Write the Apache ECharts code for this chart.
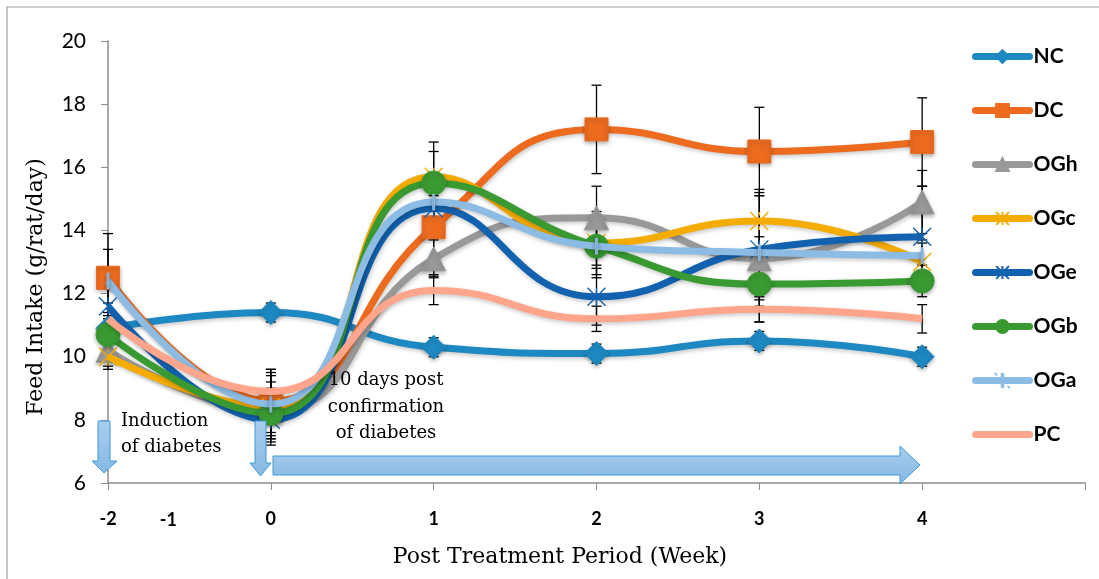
<!DOCTYPE html>
<html>
<head>
<meta charset="utf-8">
<script src="https://cdn.jsdelivr.net/npm/echarts@6/dist/echarts.min.js"></script>
<style>html,body{margin:0;padding:0;background:#fff}#c{width:1099px;height:579px}</style>
</head>
<body>
<div id="c"></div>
<script>
// Week categories, placed at equal positions 0..5 on the x axis
const weeks = ['-2', '0', '1', '2', '3', '4'];
const seriesNames = ['NC', 'DC', 'OGh', 'OGc', 'OGe', 'OGb', 'OGa', 'PC'];

const NC  = [10.9, 11.4, 10.3, 10.1, 10.5, 10.0];
const DC  = [12.5, 8.6, 14.1, 17.2, 16.5, 16.8];
const OGh = [10.2, 8.3, 13.1, 14.4, 13.1, 14.9];
const OGc = [10.0, 8.4, 15.7, 13.6, 14.3, 13.0];
const OGe = [11.6, 8.0, 14.7, 11.9, 13.4, 13.8];
const OGb = [10.7, 8.2, 15.5, 13.5, 12.3, 12.4];
const OGa = [12.4, 8.5, 14.9, 13.5, 13.3, 13.2];
const PC  = [11.2, 8.9, 12.1, 11.2, 11.5, 11.2];

const NC_err  = [0.3, 0.3, 0.3, 0.3, 0.3, 0.3];
const DC_err  = [1.4, 1.0, 1.5, 1.4, 1.4, 1.4];
const OGh_err = [0.5, 0.9, 0.6, 1.0, 2.0, 1.0];
const OGc_err = [0.4, 1.2, 0.8, 1.0, 1.0, 0.6];
const OGe_err = [0.7, 0.7, 0.4, 0.9, 1.8, 1.6];
const OGb_err = [0.6, 0.8, 1.3, 1.0, 0.5, 0.5];
const OGa_err = [1.0, 1.0, 0.5, 0.6, 0.5, 0.5];
const PC_err  = [0.5, 0.5, 0.45, 0.4, 0.4, 0.45];

const values = {NC, DC, OGh, OGc, OGe, OGb, OGa, PC};
const errors = {NC: NC_err, DC: DC_err, OGh: OGh_err, OGc: OGc_err, OGe: OGe_err, OGb: OGb_err, OGa: OGa_err, PC: PC_err};

const colors = {NC:'#1E88C2', DC:'#EC6B1F', OGh:'#999999', OGc:'#F4AC00', OGe:'#1262AF', OGb:'#3A9A32', OGa:'#8CBBE3', PC:'#FFA58B'};
const xMark = 'path://M0,0L10,10M10,0L0,10M5,0L5,2M5,8L5,10';
const starMark = 'path://M0,0L10,10M10,0L0,10M5,0L5,10';
const tickMark = 'path://M6.2,0L7.8,0L7.8,14L6.2,14Z M0,0L0.01,0L0.01,0.01Z M13.99,13.99L14,13.99L14,14Z';
const blankMark = 'path://M0,0L1,0L1,1L0,1Z';
const symbols = {
  NC: {symbol:'diamond', size:24, fill:true},
  DC: {symbol:'rect', size:23, fill:true},
  OGh: {symbol:'triangle', size:24, fill:true},
  OGc: {symbol:xMark, size:18, fill:false},
  OGe: {symbol:starMark, size:18, fill:false},
  OGb: {symbol:'circle', size:24, fill:true},
  OGa: {symbol:tickMark, size:16, fill:true},
  PC: {symbol:blankMark, size:1, fill:true, hidden:true}
};

const chart = echarts.init(document.getElementById('c'), null, {renderer:'canvas'});

const series = [];
const errData = [];
seriesNames.forEach(function(n){
  values[n].forEach(function(v, i){ errData.push([i, v, errors[n][i]]); });
});
series.push({
  type:'custom', name:'err', z:1, silent:true,
  renderItem:function(params, api){
    const x = api.value(0), y = api.value(1), e = api.value(2);
    const t = api.coord([x, y + e]), b = api.coord([x, y - e]);
    const w = 5;
    const st = {stroke:'#000', lineWidth:1.3};
    return {type:'group', children:[
      {type:'line', shape:{x1:t[0], y1:t[1], x2:b[0], y2:b[1]}, style:st},
      {type:'line', shape:{x1:t[0]-w, y1:t[1], x2:t[0]+w, y2:t[1]}, style:st},
      {type:'line', shape:{x1:b[0]-w, y1:b[1], x2:b[0]+w, y2:b[1]}, style:st}
    ]};
  },
  encode:{x:0, y:1},
  data:errData
});
seriesNames.forEach(function(n, k){
  const s = symbols[n];
  series.push({
    name:n, type:'line', z:2 + k,
    data: values[n].map(function(v, i){ return [i, v]; }),
    smooth:0.5,
    symbol:s.symbol, symbolSize:s.size, showSymbol: !s.hidden, symbolKeepAspect:true,
    lineStyle:{color:colors[n], width:7, shadowColor:'rgba(0,0,0,0.22)', shadowBlur:4, shadowOffsetX:1, shadowOffsetY:2},
    itemStyle: s.hidden ? {color:'rgba(0,0,0,0)', borderWidth:0}
             : s.fill ? {color:colors[n], borderColor:colors[n], borderWidth:1, shadowColor:'rgba(0,0,0,0.3)', shadowBlur:4, shadowOffsetY:2}
                      : {color:'none', borderColor:colors[n], borderWidth:1.4},
    emphasis:{disabled:true},
    animation:false
  });
});

chart.setOption({
  animation:false,
  grid:{left:108, right:14, top:41, bottom:96, containLabel:false},
  legend:{
    data:seriesNames, orient:'vertical', left:967, top:41,
    itemWidth:54, itemHeight:16, itemGap:33,
    lineStyle:{width:7, cap:'round'},
    textStyle:{fontFamily:'Lato', fontWeight:'bold', fontSize:21, color:'#000', padding:[0,0,0,-1]}
  },
  xAxis:{
    type:'value', min:0, max:6, interval:1,
    axisLine:{lineStyle:{color:'#8c8c8c', width:1.5}},
    axisTick:{show:true, length:7, lineStyle:{color:'#8c8c8c'}},
    splitLine:{show:false},
    axisLabel:{
      margin:27, fontFamily:'Lato', fontWeight:'bold', fontSize:18, color:'#000',
      formatter:function(v){ return weeks[v] !== undefined ? weeks[v] : ''; }
    }
  },
  yAxis:{
    type:'value', min:6, max:20, interval:2,
    axisLine:{show:true, lineStyle:{color:'#8c8c8c', width:1.5}},
    axisTick:{show:true, length:7, lineStyle:{color:'#8c8c8c'}},
    splitLine:{show:false},
    axisLabel:{margin:22, fontFamily:'Lato', fontSize:21, color:'#000'}
  },
  series:series
});

function px(x, y){ return chart.convertToPixel({gridIndex:0}, [x, y]); }
const yBase = px(0, 6)[1];
const arrowFill = new echarts.graphic.LinearGradient(0,0,0,1,[{offset:0,color:'#a9cdee'},{offset:1,color:'#86b8e3'}]);
const arrowStroke = '#3d9ad8';
const serif = '"DejaVu Serif"';
chart.setOption({
  graphic:[
    {type:'rect', z:0, shape:{x:7, y:7, width:1300, height:800}, style:{fill:'none', stroke:'#a0a0a0', lineWidth:1.2}},
    {type:'text', z:20, x:px(0.37, 6)[0], y:yBase + 37, style:{text:'-1', font:'bold 18px Lato', fill:'#000', align:'center', verticalAlign:'middle'}},
    {type:'text', z:20, x:36, y:287, rotation:Math.PI/2, style:{text:'Feed Intake (g/rat/day)', font:'22px ' + serif, fill:'#000', align:'center', verticalAlign:'middle'}},
    {type:'text', z:20, x:560, y:557, style:{text:'Post Treatment Period (Week)', font:'22px ' + serif, fill:'#000', align:'center', verticalAlign:'middle'}},
    {type:'text', z:20, x:121, y:434, style:{text:'Induction\nof diabetes', font:'18px ' + serif, lineHeight:26, fill:'#000', align:'left', verticalAlign:'middle'}},
    {type:'text', z:20, x:386, y:407, style:{text:'10 days post\nconfirmation\nof diabetes', font:'18px ' + serif, lineHeight:26.5, fill:'#000', align:'center', verticalAlign:'middle'}},
    {type:'polygon', z:20, shape:{points:[[98,421],[110,421],[110,461],[117,461],[104,473],[92,461],[98,461]]}, style:{fill:arrowFill, stroke:arrowStroke, lineWidth:1}},
    {type:'polygon', z:20, shape:{points:[[255,421],[266,421],[266,463],[271,463],[260.5,476],[250,463],[255,463]]}, style:{fill:arrowFill, stroke:arrowStroke, lineWidth:1}},
    {type:'polygon', z:20, shape:{points:[[273,456],[900,456],[900,446],[920,465],[900,484],[900,475],[273,475]]}, style:{fill:arrowFill, stroke:arrowStroke, lineWidth:1}}
  ]
});
</script>
</body>
</html>
